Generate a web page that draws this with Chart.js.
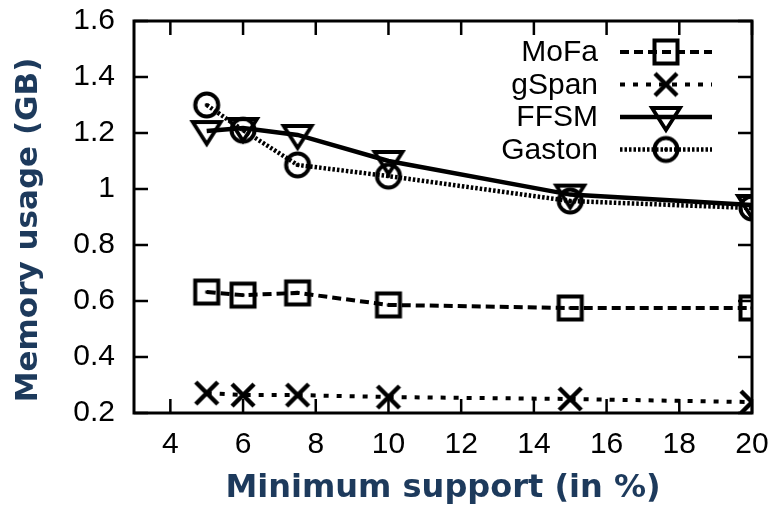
<!DOCTYPE html>
<html>
<head>
<meta charset="utf-8">
<script src="https://cdn.jsdelivr.net/npm/chart.js@4.4.1/dist/chart.umd.min.js"></script>
<style>
  html, body { margin: 0; padding: 0; background: #fff; }
  #wrap { width: 777px; height: 508px; }
</style>
</head>
<body>
<div id="wrap"><canvas id="grafico" width="777" height="508"></canvas></div>
<script>
// datos
var soporte = [5, 6, 7.5, 10, 15, 20];
var mofa = [0.632, 0.621, 0.629, 0.586, 0.575, 0.575];
var gspan = [0.271, 0.264, 0.264, 0.257, 0.25, 0.239];
var ffsm = [1.207, 1.218, 1.193, 1.1, 0.98, 0.943];
var gaston = [1.3, 1.21, 1.086, 1.046, 0.957, 0.932];
var series = ['MoFa', 'gSpan', 'FFSM', 'Gaston'];
var xTicks = [4, 6, 8, 10, 12, 14, 16, 18, 20];
var yTicks = [0.2, 0.4, 0.6, 0.8, 1, 1.2, 1.4, 1.6];
var yLabels = ['0.2', '0.4', '0.6', '0.8', '1', '1.2', '1.4', '1.6'];

var azul = '#1d3a5c';

// marcadores estilo gnuplot
function marcador(tipo) {
  var c = document.createElement('canvas');
  c.width = 36; c.height = 36;
  var g = c.getContext('2d');
  g.translate(18, 18);
  g.strokeStyle = '#000';
  g.fillStyle = '#000';
  g.lineWidth = 4;
  if (tipo == 'square') {
    g.strokeRect(-11.5, -11.5, 23, 23);
    g.fillRect(-1.5, -1.5, 3, 3);
  } else if (tipo == 'cross') {
    g.lineWidth = 4.5;
    g.beginPath();
    g.moveTo(-11, -11); g.lineTo(11, 11);
    g.moveTo(11, -11); g.lineTo(-11, 11);
    g.stroke();
  } else if (tipo == 'tri') {
    g.lineWidth = 3.8;
    g.beginPath();
    g.moveTo(-14, -9); g.lineTo(14, -9); g.lineTo(0, 13); g.closePath();
    g.stroke();
  } else {
    g.beginPath();
    g.arc(0, 0, 11.5, 0, Math.PI * 2);
    g.stroke();
    g.beginPath();
    g.arc(0, 0, 2, 0, Math.PI * 2);
    g.fill();
  }
  return c;
}

function puntos(ys) {
  return soporte.map(function (x, i) { return { x: x, y: ys[i] }; });
}

var estilos = [
  { datos: mofa, dash: [9, 5], ancho: 4, punto: marcador('square') },
  { datos: gspan, dash: [5, 8], ancho: 4, punto: marcador('cross') },
  { datos: ffsm, dash: [], ancho: 4.5, punto: marcador('tri') },
  { datos: gaston, dash: [2.5, 2], ancho: 4.5, punto: marcador('circle') }
];

var datasets = estilos.map(function (e, i) {
  return {
    label: series[i],
    data: puntos(e.datos),
    borderColor: '#000',
    backgroundColor: '#000',
    borderWidth: e.ancho,
    borderDash: e.dash,
    pointStyle: e.punto,
    pointRadius: 12,
    tension: 0
  };
});

// marco, ticks hacia adentro, titulo Y y leyenda
var marco = {
  id: 'marco',
  afterDraw: function (chart) {
    var ctx = chart.ctx;
    var a = chart.chartArea;
    var sx = chart.scales.x, sy = chart.scales.y;
    ctx.save();
    ctx.strokeStyle = '#000';
    ctx.lineWidth = 2.5;
    ctx.beginPath();
    xTicks.forEach(function (v) {
      var px = sx.getPixelForValue(v);
      ctx.moveTo(px, a.bottom); ctx.lineTo(px, a.bottom - 14);
      ctx.moveTo(px, a.top); ctx.lineTo(px, a.top + 14);
    });
    yTicks.forEach(function (v) {
      var py = sy.getPixelForValue(v);
      ctx.moveTo(a.left, py); ctx.lineTo(a.left + 14, py);
      ctx.moveTo(a.right, py); ctx.lineTo(a.right - 14, py);
    });
    ctx.stroke();
    ctx.lineWidth = 3;
    ctx.strokeRect(a.left, a.top, a.right - a.left, a.bottom - a.top);

    // titulo del eje Y
    ctx.save();
    ctx.translate(29, (a.top + a.bottom) / 2 + 13);
    ctx.rotate(-Math.PI / 2);
    ctx.font = 'bold 31px "DejaVu Sans", sans-serif';
    ctx.fillStyle = azul;
    ctx.textAlign = 'center';
    ctx.textBaseline = 'middle';
    ctx.fillText('Memory usage (GB)', 0, 0);
    ctx.restore();

    // leyenda
    ctx.font = '30px "Liberation Sans", Arial, sans-serif';
    ctx.textAlign = 'right';
    ctx.textBaseline = 'middle';
    ctx.fillStyle = '#000';
    estilos.forEach(function (e, i) {
      var y = a.top + 31 + i * 32.5;
      ctx.fillText(series[i], a.right - 154, y + 1);
      ctx.setLineDash(e.dash);
      ctx.lineWidth = e.ancho;
      ctx.beginPath();
      ctx.moveTo(a.right - 132, y);
      ctx.lineTo(a.right - 40, y);
      ctx.stroke();
      ctx.setLineDash([]);
      ctx.drawImage(e.punto, a.right - 86 - 18, y - 18);
    });
    ctx.restore();
  }
};

var ctx = document.getElementById('grafico').getContext('2d');
var chart = new Chart(ctx, {
  type: 'line',
  data: { datasets: datasets },
  options: {
    responsive: false,
    animation: false,
    layout: { padding: { top: 21, right: 25, left: 0, bottom: 0 } },
    plugins: { legend: { display: false }, tooltip: { enabled: false } },
    scales: {
      x: {
        type: 'linear',
        min: 3,
        max: 20,
        afterBuildTicks: function (s) { s.ticks = xTicks.map(function (v) { return { value: v }; }); },
        afterFit: function (s) {
          s.height = 95;
          s.paddingLeft = 0; s.paddingRight = 0;
        },
        grid: { display: false, drawTicks: false },
        border: { display: false },
        ticks: {
          color: '#000',
          padding: 14,
          maxRotation: 0,
          font: { family: '"Liberation Sans", Arial, sans-serif', size: 30 }
        },
        title: {
          display: true,
          text: 'Minimum support (in %)',
          color: azul,
          padding: { top: 0, bottom: 0 },
          font: { family: '"DejaVu Sans", sans-serif', size: 32, weight: 'bold' }
        }
      },
      y: {
        min: 0.2,
        max: 1.6,
        afterBuildTicks: function (s) { s.ticks = yTicks.map(function (v) { return { value: v }; }); },
        afterFit: function (s) {
          s.width = 134;
          s.paddingTop = 0; s.paddingBottom = 0;
        },
        grid: { display: false, drawTicks: false },
        border: { display: false },
        ticks: {
          color: '#000',
          padding: 19,
          font: { family: '"Liberation Sans", Arial, sans-serif', size: 30 },
          callback: function (v) { return yLabels[yTicks.indexOf(v)]; }
        },
        title: { display: false }
      }
    }
  },
  plugins: [marco]
});
</script>
</body>
</html>
